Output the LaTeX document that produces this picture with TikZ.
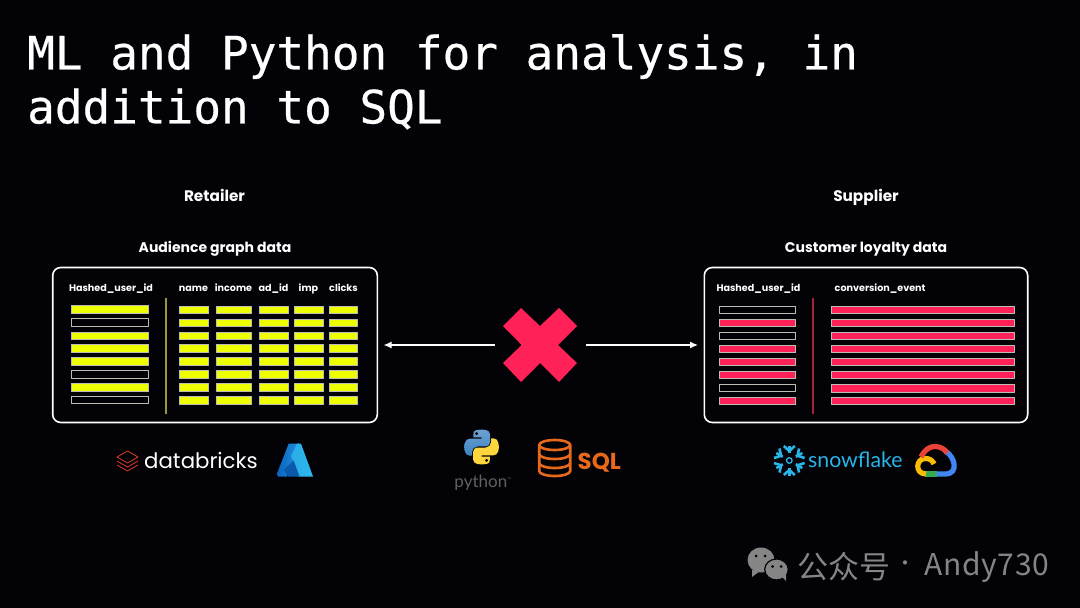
\documentclass[tikz,border=0pt]{standalone}
\usepackage{fontspec}
\setmainfont{Poppins}
\newfontfamily\titlefont[FakeBold=0.5]{DejaVu Sans Mono}
\newfontfamily\logofont{Lato}
\newfontfamily\markfont{Noto Sans CJK SC}
\usetikzlibrary{arrows.meta,calc,positioning}
\definecolor{slateBack}{HTML}{020207}
\definecolor{slateYellow}{HTML}{EEFF00}
\definecolor{slatePink}{HTML}{FF2157}
\definecolor{slateEdge}{HTML}{BDBDB5}
\definecolor{slateOlive}{HTML}{9A9A34}
\definecolor{slateWine}{HTML}{A52238}
\definecolor{brickRed}{HTML}{C8361F}
\definecolor{azureDark}{HTML}{0B63C0}
\definecolor{azureLight}{HTML}{2FB8EE}
\definecolor{pyBlue}{HTML}{3C82C2}
\definecolor{pyYellow}{HTML}{FFD53E}
\definecolor{sqlOrange}{HTML}{E8681C}
\definecolor{flakeBlue}{HTML}{29B5E8}
\definecolor{markGrey}{HTML}{858585}
\definecolor{gcBlue}{HTML}{4285F4}
\definecolor{gcGreen}{HTML}{34A853}
\definecolor{gcYellow}{HTML}{FBBC05}
\definecolor{gcRed}{HTML}{EA4335}

\begin{document}
\begin{tikzpicture}[x=1pt,y=-1pt,>=Latex,line join=round]
\path[fill=slateBack] (0,0) rectangle (1080,608);
\tikzset{heading/.style={anchor=base,text=white,font=\bfseries\fontsize{14}{16}\selectfont,inner sep=0pt},sidehead/.style={heading,font=\bfseries\fontsize{15.3}{17}\selectfont},colhead/.style={anchor=base,text=white,font=\bfseries\fontsize{9.6}{11}\selectfont,inner sep=0pt},panel/.style={draw=white,line width=1.6pt,rounded corners=8pt,minimum width=#1,minimum height=155pt,inner sep=0pt},cell/.style={draw=slateEdge,line width=.9pt},link/.style={draw=white,line width=1.2pt,shorten >=5.5pt,-{Latex[length=8pt,width=7pt]}}}
\node[anchor=north west,inner sep=0pt,align=left,text=white,font=\titlefont\fontsize{46}{54}\selectfont] (slideTitle) at (27,34) {ML and Python for analysis, in\\addition to SQL};

\node[sidehead] (retailerHead) at (214.5,201.5) {Retailer};
\node[heading] (audienceHead) at (215,252.5) {Audience graph data};
\node[sidehead] (supplierHead) at (866,201.5) {Supplier};
\node[heading] (loyaltyHead) at (866,252.5) {Customer loyalty data};

% table panels
\node[panel=324.6pt] (retailerBox) at (215,345) {};
\node[panel=323.4pt] (supplierBox) at (866,345) {};

\node[colhead] (hashLeft) at (111,291) {Hashed\_user\_id};
\node[colhead] (nameHead) at (193.5,291) {name};
\node[colhead] (incomeHead) at (233.5,291) {income};
\node[colhead] (adHead) at (273.5,291) {ad\_id};
\node[colhead] (impHead) at (308.5,291) {imp};
\node[colhead] (clicksHead) at (343.5,291) {clicks};
\node[colhead] (hashRight) at (758.5,291) {Hashed\_user\_id};
\node[colhead,anchor=base west] (eventHead) at (834.5,291) {conversion\_event};

\foreach \rowY/\rowFill in {309.3/slateYellow,322.5/slateBack,335.7/slateYellow,348.5/slateYellow,361.5/slateYellow,374.5/slateBack,387.3/slateYellow,400.2/slateBack}
  \path[cell,fill=\rowFill] (71.7,\rowY-3.7) rectangle (148,\rowY+3.7);
\foreach \colL/\colR in {179.5/208.5,216.5/251,259.5/288,294.5/323,329/357.3}
  \foreach \rowY in {309.8,322.8,336,348.5,361.5,374.5,387.5,400.4}
    \path[cell,fill=slateYellow] (\colL,\rowY-3.7) rectangle (\colR,\rowY+3.7);
\draw[slateOlive,line width=1.1pt] (166,298) -- (166,414);

\foreach \rowY/\rowFill in {310/slateBack,323/slatePink,336/slateBack,349/slatePink,362/slatePink,375/slatePink,388/slateBack,401/slatePink}
  \path[cell,fill=\rowFill] (719.5,\rowY-3.7) rectangle (795.5,\rowY+3.7);
\foreach \rowY in {310,323,336,349,362,375,388.3,401}
  \path[cell,fill=slatePink] (831.3,\rowY-3.7) rectangle (1014.3,\rowY+3.7);
\draw[slateWine,line width=1.1pt] (813,298) -- (813,414);

% cross and its arrows
\node[minimum width=91pt,minimum height=74pt,inner sep=0pt] (crossMark) at (540.5,345) {};
\path[fill=slatePink] (521,308) -- (540,326) -- (559,308) -- (577,326) -- (558,345) -- (577,363) -- (559,382) -- (540,363) -- (521,382) -- (503,363) -- (521.7,345) -- (503,326) -- cycle;
\draw[link] (crossMark.west) -- (retailerBox.east);
\draw[link] (crossMark.east) -- (supplierBox.west);

% databricks and azure
\draw[brickRed,line width=.9pt] (127.5,451) -- (138,457) -- (127.5,463) -- (117,457) -- cycle;
\draw[brickRed,line width=.9pt] (117,461) -- (127.5,467) -- (138,461);
\draw[brickRed,line width=.9pt] (117,465) -- (127.5,471) -- (138,465);
\node[inner sep=0pt,anchor=base west,text=white,font=\fontsize{21.3}{24}\selectfont] (brickName) at (144,468) {databricks};
\path[left color=azureDark,right color=azureLight!55!azureDark] (288.7,443.7) -- (299,443.7) -- (287,476.5) -- (278,476.5) -- (276.8,474) -- cycle;
\path[left color=azureLight!85!azureDark,right color=azureLight] (297,443.7) -- (301,443.7) -- (313,476.5) -- (298,476.5) -- (291,456) -- cycle;
\path[fill=azureDark!90!black] (293.7,460.5) -- (299.5,476.5) -- (288,476.5) -- (283.7,469.7) -- cycle;

% python
\begin{scope}[shift={(464,429.3)},x=.32pt,y=-.32pt]
\path[top color=pyBlue!75!white,bottom color=pyBlue] (54.9,.8) .. controls (50.4,.8) and (46,1.2) .. (42.2,1.9) .. controls (31,3.9) and (29,8) .. (29,15.6) -- (29,25.6) -- (55.2,25.6) -- (55.2,29) -- (19.1,29) .. controls (11.5,29) and (4.8,33.6) .. (2.7,42.3) .. controls (.3,52.2) and (.2,58.4) .. (2.7,68.7) .. controls (4.6,76.4) and (9,81.9) .. (16.6,81.9) -- (25.6,81.9) -- (25.6,70) .. controls (25.6,61.3) and (33.1,53.7) .. (42,53.7) -- (68.2,53.7) .. controls (75.5,53.7) and (81.3,47.7) .. (81.3,40.4) -- (81.3,15.6) .. controls (81.3,8.5) and (75.3,3.2) .. (68.2,2) .. controls (63.7,1.3) and (59,.8) .. (54.9,.8) -- cycle;
\path[fill=slateBack] (39.5,13.5) circle[radius=5];
\begin{scope}[shift={(110,110.6)},xscale=-1,yscale=-1]
\path[fill=pyYellow] (54.9,.8) .. controls (50.4,.8) and (46,1.2) .. (42.2,1.9) .. controls (31,3.9) and (29,8) .. (29,15.6) -- (29,25.6) -- (55.2,25.6) -- (55.2,29) -- (19.1,29) .. controls (11.5,29) and (4.8,33.6) .. (2.7,42.3) .. controls (.3,52.2) and (.2,58.4) .. (2.7,68.7) .. controls (4.6,76.4) and (9,81.9) .. (16.6,81.9) -- (25.6,81.9) -- (25.6,70) .. controls (25.6,61.3) and (33.1,53.7) .. (42,53.7) -- (68.2,53.7) .. controls (75.5,53.7) and (81.3,47.7) .. (81.3,40.4) -- (81.3,15.6) .. controls (81.3,8.5) and (75.3,3.2) .. (68.2,2) .. controls (63.7,1.3) and (59,.8) .. (54.9,.8) -- cycle;
\path[fill=slateBack] (39.5,13.5) circle[radius=5];
\end{scope}
\end{scope}
\node[inner sep=0pt,text=white!38!black,font=\logofont\fontsize{17}{20}\selectfont] (pythonName) at (483,482.5) {python\textsuperscript{\tiny ™}};

% sql
\begin{scope}[draw=sqlOrange,line width=2.6pt]
\draw (554.7,445) ellipse[x radius=15.5,y radius=5];
\draw (539.2,445) -- (539.2,471) arc[start angle=180,end angle=360,x radius=15.5,y radius=-5] -- (570.2,445);
\draw (539.2,454) arc[start angle=180,end angle=360,x radius=15.5,y radius=-5];
\draw (539.2,463) arc[start angle=180,end angle=360,x radius=15.5,y radius=-5];
\end{scope}
\node[inner sep=0pt,anchor=base west,text=sqlOrange,font=\bfseries\fontsize{23}{25}\selectfont] (sqlName) at (577.5,469.5) {SQL};

% snowflake and google cloud
\begin{scope}[shift={(789.3,460.5)},draw=flakeBlue,line width=2.6pt]
\foreach \armAngle in {30,90,...,330}{
  \begin{scope}[rotate=\armAngle]
  \draw (7.5,0) -- (15,0);
  \draw (14.5,-5.5) -- (9.5,0) -- (14.5,5.5);
  \end{scope}
}
\draw[line width=1.3pt] (0,0) circle[radius=2.8];
\end{scope}
\node[inner sep=0pt,anchor=base west,text=flakeBlue,font=\logofont\fontsize{21.3}{24}\selectfont] (flakeName) at (808,467) {snowflake};
\begin{scope}[line width=5.2pt]
\draw[gcBlue] (946,451.5) .. controls (954,456) and (960,474) .. (945,474) -- (936,474);
\draw[gcGreen] (937,474) -- (925,474);
\draw[gcYellow] (926,474) .. controls (914.5,474) and (915.5,458) .. (926,458.5) .. controls (930,458.5) and (933,461) .. (934,464);
\draw[gcRed] (921,457) .. controls (925,449) and (930,446.5) .. (935,446.5) .. controls (940,446.5) and (945,449) .. (947,453);
\end{scope}

% watermark
\path[fill=markGrey] (761,560) ellipse[x radius=13.5,y radius=12.5];
\path[fill=markGrey] (752,570) -- (752,577) -- (760,571) -- cycle;
\path[fill=markGrey,draw=slateBack,line width=1.2pt] (776.5,569.5) ellipse[x radius=11.8,y radius=10.5];
\path[fill=markGrey] (782,577) -- (786,581) -- (786,574) -- cycle;
\foreach \eyeX/\eyeY in {756/556,765/556,772.5/566.5,781/566.5}
  \path[fill=slateBack] (\eyeX,\eyeY) circle[radius=1.5];
\node[inner sep=0pt,anchor=west,text=markGrey,font=\markfont\fontsize{31}{33}\selectfont] (markCjk) at (797.5,566.5) {公众号};
\node[inner sep=0pt,text=markGrey,font=\markfont\fontsize{20}{22}\selectfont] (markDot) at (905,566) {·};
\node[inner sep=0pt,anchor=west,text=markGrey,font=\markfont\fontsize{30}{32}\selectfont\addfontfeature{LetterSpace=2.3}] (markName) at (924,567) {Andy730};
\end{tikzpicture}
\end{document}
